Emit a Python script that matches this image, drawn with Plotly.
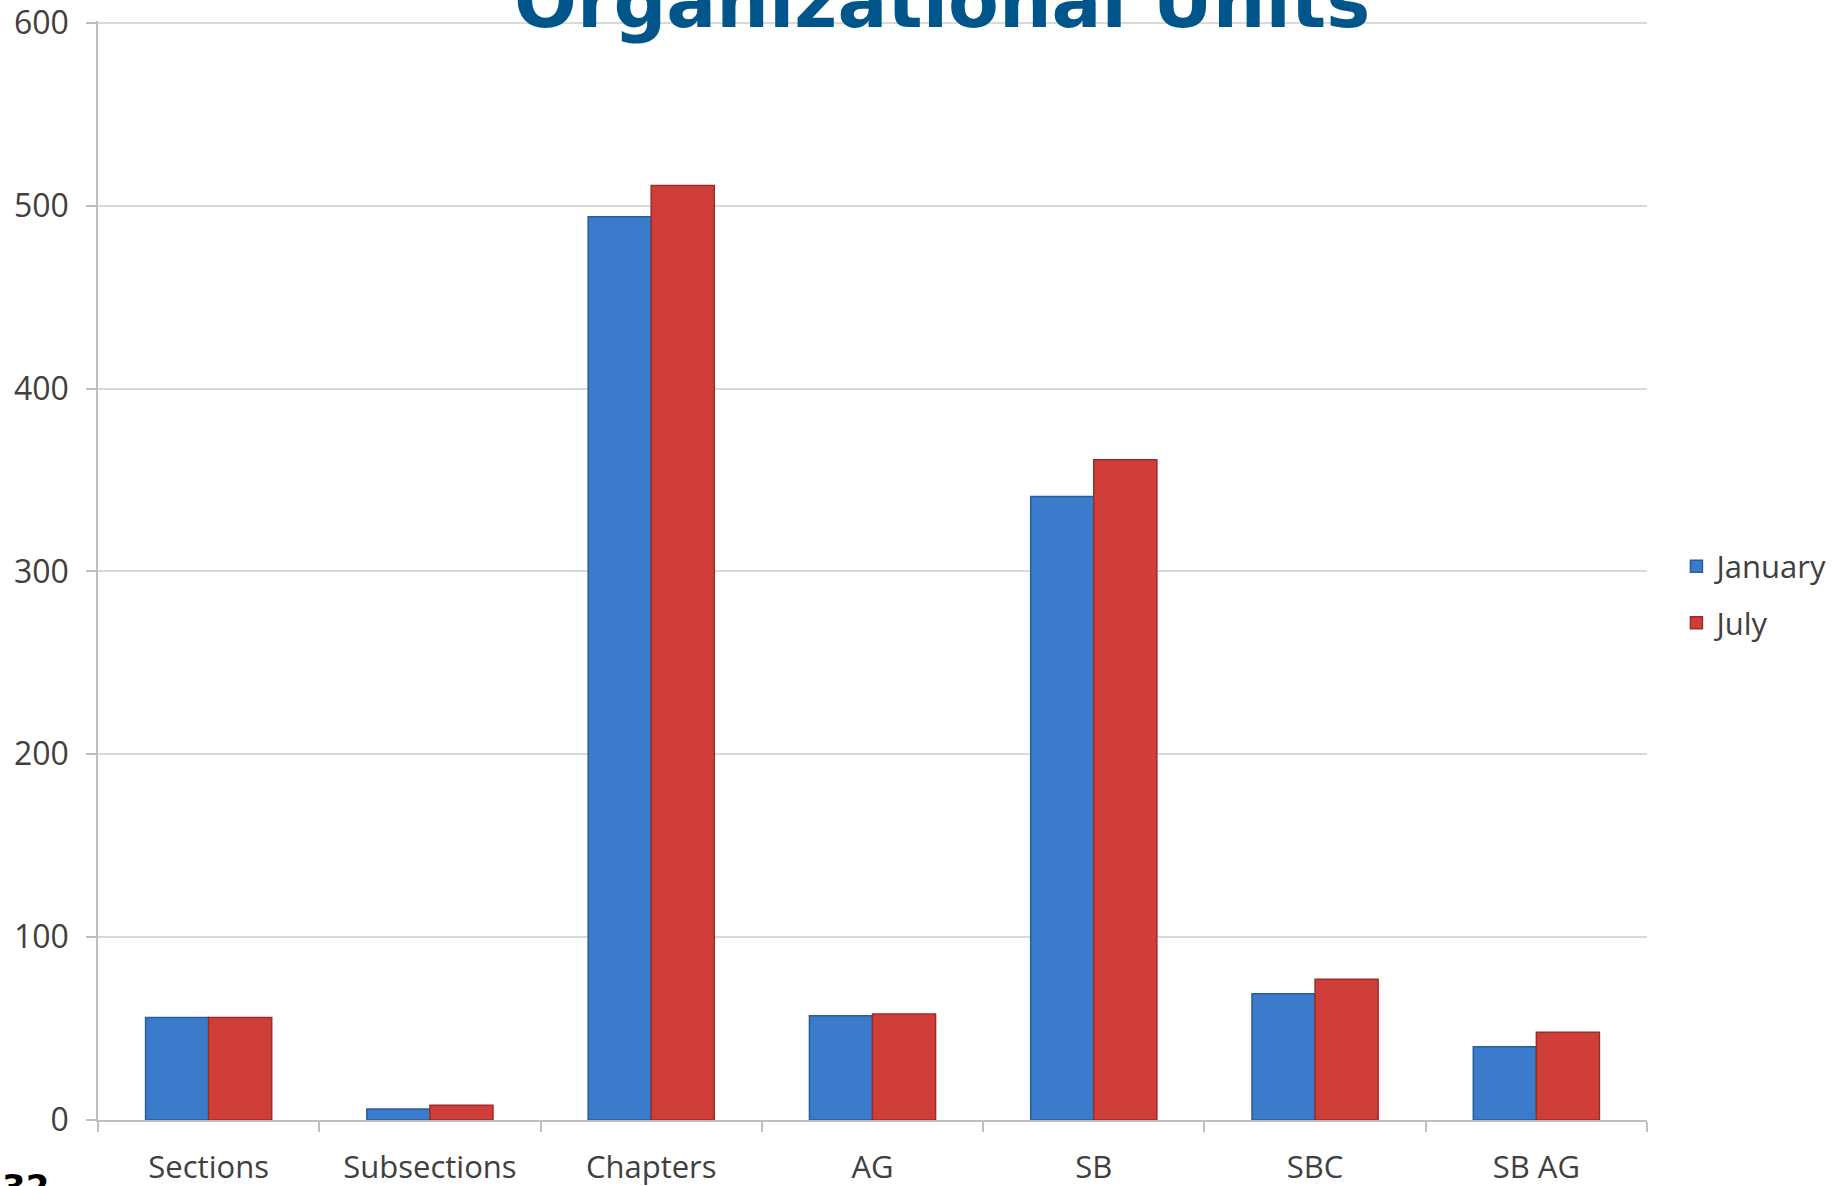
import plotly.graph_objects as go

categories = ["Sections", "Subsections", "Chapters", "AG", "SB", "SBC", "SB AG"]
january = [56, 6, 494, 57, 341, 69, 40]
july = [56, 8, 511, 58, 361, 77, 48]
y_ticks = [0, 100, 200, 300, 400, 500, 600]

fig = go.Figure()
fig.add_trace(go.Bar(
    x=categories, y=january, name="January", legendgroup="jan",
    marker=dict(color="#3B7BCB", line=dict(color="#2B5C9C", width=1.5)),
))
fig.add_trace(go.Bar(
    x=categories, y=july, name="July", legendgroup="jul",
    marker=dict(color="#D03E3A", line=dict(color="#9C2C2A", width=1.5)),
))

fig.update_layout(
    width=1848, height=1186,
    margin=dict(l=98, r=201, t=21, b=66, autoexpand=False),
    paper_bgcolor="white", plot_bgcolor="white",
    barmode="group", bargap=0.43, bargroupgap=0,
    font=dict(family="Open Sans", color="#404040"),
    showlegend=True,
    legend=dict(
        x=1.019, xanchor="left", y=0.478, yanchor="middle",
        font=dict(size=31, color="#404040", family="Open Sans"),
        tracegroupgap=13, traceorder="grouped",
        bgcolor="rgba(0,0,0,0)",
    ),
    xaxis=dict(
        type="category", tickson="boundaries", automargin=False,
        ticks="outside", ticklen=10, tickcolor="#BFBFBF", tickwidth=1.5,
        showline=True, linecolor="#BFBFBF", linewidth=1.5,
        showgrid=False,
        tickfont=dict(size=31, color="#404040", family="Open Sans"),
        ticklabelstandoff=19,
    ),
    yaxis=dict(
        range=[0, 601], tickvals=y_ticks, automargin=False,
        ticks="outside", ticklen=10, tickcolor="#BFBFBF", tickwidth=1.5,
        showline=True, linecolor="#BFBFBF", linewidth=1.5,
        showgrid=True, gridcolor="#D9D9D9", gridwidth=2,
        zeroline=False,
        tickfont=dict(size=32, color="#404040", family="Open Sans"),
        ticklabelstandoff=11,
    ),
)

fig.add_annotation(
    text="<b>Organizational Units</b>", xref="paper", yref="paper",
    x=0.545, y=1.0185, xanchor="center", yanchor="middle", showarrow=False,
    font=dict(family="DejaVu Sans", size=74, color="#00558A"),
)
fig.add_annotation(
    text="<b>32</b>", xref="paper", yref="paper",
    x=-0.063, y=-0.041, xanchor="left", yanchor="top", showarrow=False,
    font=dict(family="DejaVu Sans", size=34, color="#000000"),
)

fig.write_html("out.html", config={"displayModeBar": False},
               post_script="document.body.style.margin='0';")
